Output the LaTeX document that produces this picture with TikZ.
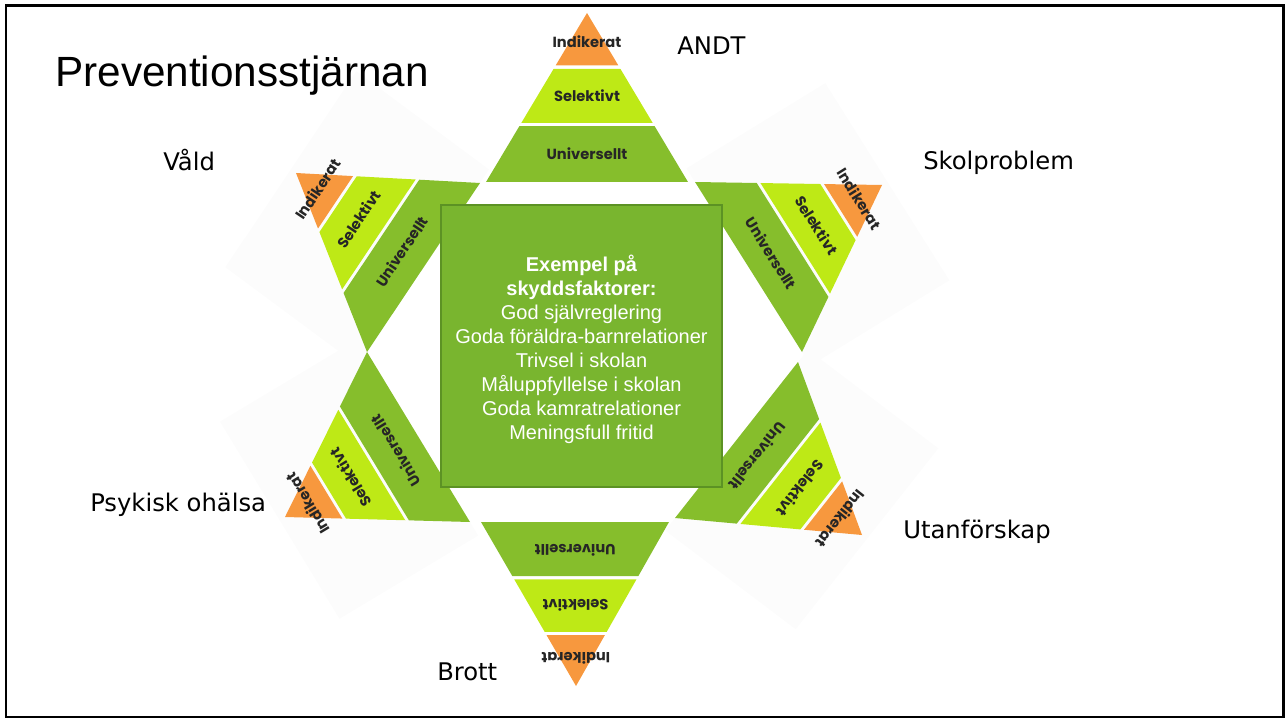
\documentclass[tikz,border=0pt]{standalone}
\usepackage{fontspec}
\setmainfont{Liberation Sans}
\newfontfamily\armfont{DejaVu Sans}
\newfontfamily\pyrfont{Poppins}
\usetikzlibrary{calc}
\definecolor{indik}{RGB}{247,152,62}
\definecolor{selek}{RGB}{190,233,22}
\definecolor{univ}{RGB}{134,190,44}
\definecolor{cardgreen}{RGB}{121,181,47}
\definecolor{cardedge}{RGB}{92,146,36}
\definecolor{faintgray}{RGB}{252,252,252}
\tikzset{
  pyrtext/.style={font=\pyrfont\bfseries\fontsize{11}{13}\selectfont, text=black!85, inner sep=0pt, sloped, allow upside down},
  arm/.style={font=\armfont\fontsize{18.2}{20}\selectfont, anchor=base west, inner sep=0pt},
  card/.style={fill=cardgreen, draw=cardedge, line width=0.8pt, minimum width=210.75pt, minimum height=211.5pt},
  facts/.style={text=white, align=center, font=\fontsize{15}{18}\selectfont},
  faint/.style={fill=faintgray},
  frame/.style={draw=black, line width=2pt}
}
% corners of one pyramid: apex, base left, base right
\newcommand{\pyrcoords}[4]{%
  \coordinate (#1-A) at #2;
  \coordinate (#1-L) at #3;
  \coordinate (#1-R) at #4;
  \coordinate (#1-M) at ($(#1-L)!0.5!(#1-R)$);
}
\newcommand{\pyrshade}[1]{%
  \fill[faint] ($(#1-L)!-0.08!(#1-R)$) -- ($(#1-R)!-0.08!(#1-L)$)
    -- ($(#1-R)!-0.08!(#1-L) + 1.04*(#1-A) - 1.04*(#1-M)$)
    -- ($(#1-L)!-0.08!(#1-R) + 1.04*(#1-A) - 1.04*(#1-M)$) -- cycle;
}
\newcommand{\pyramid}[1]{%
  \fill[univ] ($(#1-A)!0.67!(#1-L)$) -- (#1-L) -- (#1-R) -- ($(#1-A)!0.67!(#1-R)$) -- cycle;
  \fill[selek] ($(#1-A)!0.33!(#1-L)$) -- ($(#1-A)!0.65!(#1-L)$) -- ($(#1-A)!0.65!(#1-R)$) -- ($(#1-A)!0.33!(#1-R)$) -- cycle;
  \fill[indik] (#1-A) -- ($(#1-A)!0.31!(#1-L)$) -- ($(#1-A)!0.31!(#1-R)$) -- cycle;
  \path ($(#1-A)!0.17!(#1-L)$) -- node[pyrtext] (#1-ind) {Indikerat} ($(#1-A)!0.17!(#1-R)$);
  \path ($(#1-A)!0.49!(#1-L)$) -- node[pyrtext] (#1-sel) {Selektivt} ($(#1-A)!0.49!(#1-R)$);
  \path ($(#1-A)!0.83!(#1-L)$) -- node[pyrtext] (#1-uni) {Universellt} ($(#1-A)!0.83!(#1-R)$);
}

\begin{document}
\begin{tikzpicture}[x=0.75pt,y=-0.75pt]
  \useasboundingbox (0,0) rectangle (1287,720);
  \draw[frame] (6,5.3) rectangle (1283.5,717);

  % the six arms of the star
  \pyrcoords{andt}{(587,13)}{(486,182)}{(688,182)}
  \pyrcoords{skol}{(882,185)}{(695,182)}{(802,352)}
  \pyrcoords{vald}{(296,173)}{(367,352)}{(480,183)}
  \pyrcoords{psyk}{(285,517)}{(470,522)}{(367,352)}
  \pyrcoords{brott}{(576,686)}{(669,522)}{(481,522)}
  \pyrcoords{utan}{(862,535)}{(798,362)}{(675,518)}
  \foreach \p in {skol,vald,psyk,utan} {\pyrshade{\p}}
  \foreach \p in {andt,skol,vald,psyk,brott,utan} {\pyramid{\p}}

  \node[card] (box) at (581.5,346) {};
  \node[facts] (factlist) at (581.5,349.5) {\textbf{Exempel på}\\ \textbf{skyddsfaktorer:}\\
    God självreglering\\ Goda föräldra-barnrelationer\\ Trivsel i skolan\\
    Måluppfyllelse i skolan\\ Goda kamratrelationer\\ Meningsfull fritid};

  \node[anchor=base west, inner sep=0pt, font=\fontsize{31.7}{36}\selectfont] (title) at (55,86.7) {Preventionsstjärnan};

  \node[arm] (l-andt) at (677,55) {ANDT};
  \node[arm] (l-skol) at (923,170) {Skolproblem};
  \node[arm] (l-vald) at (163,170.7) {Våld};
  \node[arm] (l-psyk) at (90,511.7) {Psykisk ohälsa};
  \node[arm] (l-utan) at (903,538.3) {Utanförskap};
  \node[arm] (l-brott) at (437,680) {Brott};
\end{tikzpicture}
\end{document}
